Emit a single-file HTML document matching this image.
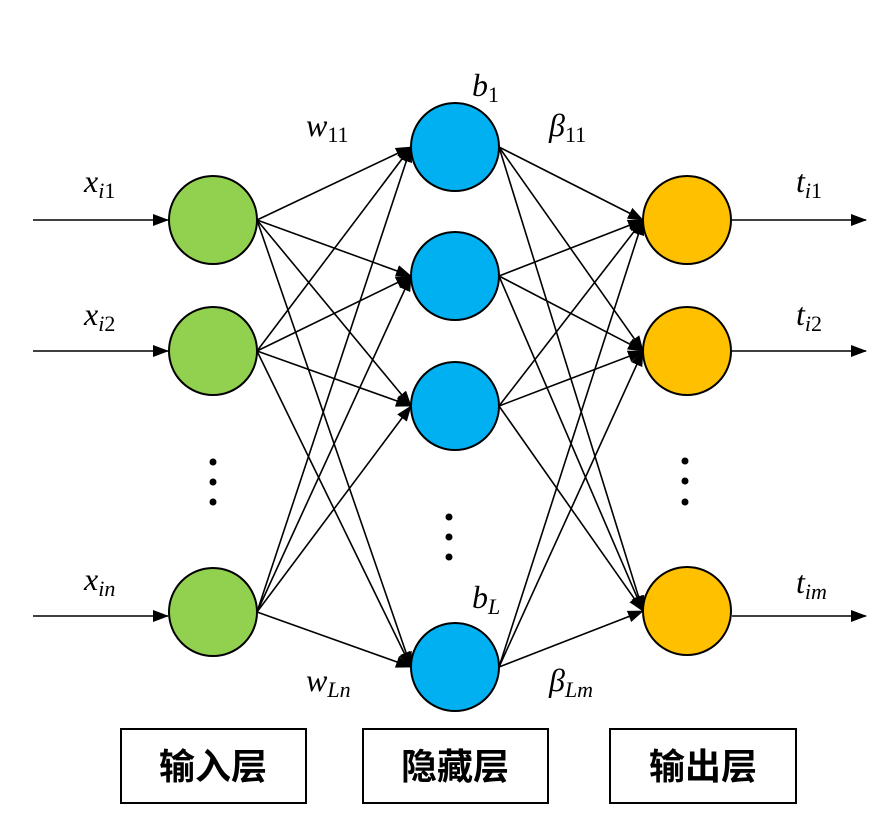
<!DOCTYPE html>
<html><head><meta charset="utf-8"><style>
body{margin:0;background:#fff}
svg text{font-family:"Liberation Serif",serif;font-style:italic;font-size:32px}
.s{font-size:22px}
.u{font-style:normal}
.cn{font-family:"Liberation Sans","Noto Sans CJK SC",sans-serif;font-style:normal;font-weight:bold;font-size:36px}
</style></head><body>
<svg width="882" height="835" viewBox="0 0 882 835" xmlns="http://www.w3.org/2000/svg">
<defs><marker id="a" markerWidth="16" markerHeight="12" refX="15" refY="6" orient="auto" markerUnits="userSpaceOnUse"><path d="M0,0 L16,6 L0,12 z" fill="#000"/></marker></defs>
<g stroke="#000" stroke-width="1.6" marker-end="url(#a)" fill="none">
<line x1="33" y1="220" x2="168" y2="220"/>
<line x1="33" y1="351" x2="168" y2="351"/>
<line x1="33" y1="616" x2="168" y2="616"/>
<line x1="732" y1="220" x2="866" y2="220"/>
<line x1="732" y1="351" x2="866" y2="351"/>
<line x1="732" y1="616" x2="866" y2="616"/>
<line x1="257" y1="220" x2="411" y2="147"/><line x1="257" y1="220" x2="411" y2="276"/><line x1="257" y1="220" x2="411" y2="406"/><line x1="257" y1="220" x2="411" y2="667"/>
<line x1="257" y1="351" x2="411" y2="147"/><line x1="257" y1="351" x2="411" y2="276"/><line x1="257" y1="351" x2="411" y2="406"/><line x1="257" y1="351" x2="411" y2="667"/>
<line x1="257" y1="612" x2="411" y2="147"/><line x1="257" y1="612" x2="411" y2="276"/><line x1="257" y1="612" x2="411" y2="406"/><line x1="257" y1="612" x2="411" y2="667"/>
<line x1="499" y1="147" x2="643" y2="220"/><line x1="499" y1="147" x2="643" y2="351"/><line x1="499" y1="147" x2="643" y2="611"/>
<line x1="499" y1="276" x2="643" y2="220"/><line x1="499" y1="276" x2="643" y2="351"/><line x1="499" y1="276" x2="643" y2="611"/>
<line x1="499" y1="406" x2="643" y2="220"/><line x1="499" y1="406" x2="643" y2="351"/><line x1="499" y1="406" x2="643" y2="611"/>
<line x1="499" y1="667" x2="643" y2="220"/><line x1="499" y1="667" x2="643" y2="351"/><line x1="499" y1="667" x2="643" y2="611"/>
</g>
<g stroke="#000" stroke-width="2">
<circle cx="213" cy="220" r="44" fill="#92d050"/>
<circle cx="213" cy="351" r="44" fill="#92d050"/>
<circle cx="213" cy="612" r="44" fill="#92d050"/>
<circle cx="455" cy="147" r="44" fill="#00b0f0"/>
<circle cx="455" cy="276" r="44" fill="#00b0f0"/>
<circle cx="455" cy="406" r="44" fill="#00b0f0"/>
<circle cx="455" cy="667" r="44" fill="#00b0f0"/>
<circle cx="687" cy="220" r="44" fill="#ffc000"/>
<circle cx="687" cy="351" r="44" fill="#ffc000"/>
<circle cx="687" cy="611" r="44" fill="#ffc000"/>
</g>
<g fill="#000">
<circle cx="213" cy="462" r="3.5"/><circle cx="213" cy="482" r="3.5"/><circle cx="213" cy="502" r="3.5"/>
<circle cx="449" cy="517" r="3.5"/><circle cx="449" cy="537" r="3.5"/><circle cx="449" cy="557" r="3.5"/>
<circle cx="685" cy="461" r="3.5"/><circle cx="685" cy="481" r="3.5"/><circle cx="685" cy="502" r="3.5"/>
</g>
<text x="84" y="192">x<tspan class="s" dy="6">i<tspan class="u">1</tspan></tspan></text>
<text x="84" y="325">x<tspan class="s" dy="6">i<tspan class="u">2</tspan></tspan></text>
<text x="84" y="590">x<tspan class="s" dy="6">in</tspan></text>
<text x="306" y="136">w<tspan class="s u" dy="6">11</tspan></text>
<text x="306" y="691">w<tspan class="s" dy="6">Ln</tspan></text>
<text x="472" y="96">b<tspan class="s u" dy="6">1</tspan></text>
<text x="472" y="608">b<tspan class="s" dy="6">L</tspan></text>
<text x="549" y="136">β<tspan class="s u" dy="6">11</tspan></text>
<text x="549" y="691">β<tspan class="s" dy="6">Lm</tspan></text>
<text x="796" y="192">t<tspan class="s" dy="6">i<tspan class="u">1</tspan></tspan></text>
<text x="796" y="325">t<tspan class="s" dy="6">i<tspan class="u">2</tspan></tspan></text>
<text x="796" y="593">t<tspan class="s" dy="6">im</tspan></text>
<g fill="#fff" stroke="#000" stroke-width="2">
<rect x="121" y="729" width="185" height="74"/>
<rect x="363" y="729" width="185" height="74"/>
<rect x="610" y="729" width="186" height="74"/>
</g>
<text class="cn" x="213" y="779" text-anchor="middle">输入层</text>
<text class="cn" x="455" y="779" text-anchor="middle">隐藏层</text>
<text class="cn" x="703" y="779" text-anchor="middle">输出层</text>
</svg>
</body></html>
